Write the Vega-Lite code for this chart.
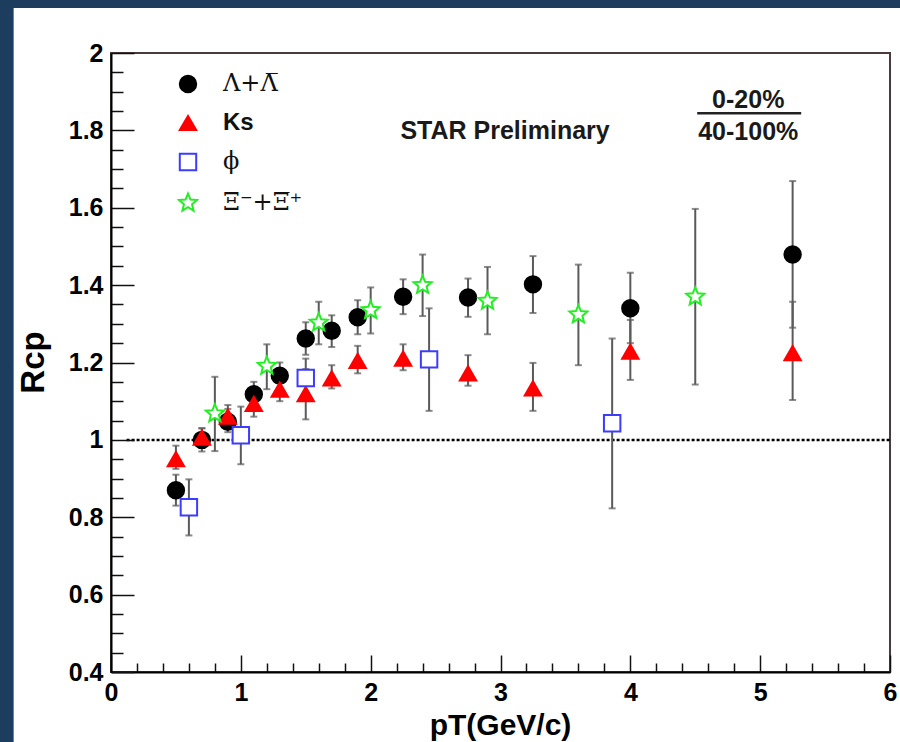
{
  "$schema": "https://vega.github.io/schema/vega-lite/v6.json",
  "width": 779,
  "height": 619,
  "autosize": "none",
  "padding": {"left": 111, "top": 53, "right": 10, "bottom": 70},
  "background": "#1d3d5e",
  "view": {"stroke": null},
  "resolve": {"axis": {"x": "independent", "y": "independent"}},
  "datasets": {
    "pts": [
      {"species": "\u039b+\u039b\u0305", "pt": 0.5, "rcp": 0.870, "lo": 0.830, "hi": 0.910},
      {"species": "\u039b+\u039b\u0305", "pt": 0.7, "rcp": 1.000, "lo": 0.970, "hi": 1.030},
      {"species": "\u039b+\u039b\u0305", "pt": 0.9, "rcp": 1.047, "lo": 1.020, "hi": 1.080},
      {"species": "\u039b+\u039b\u0305", "pt": 1.1, "rcp": 1.118, "lo": 1.090, "hi": 1.150},
      {"species": "\u039b+\u039b\u0305", "pt": 1.3, "rcp": 1.166, "lo": 1.130, "hi": 1.200},
      {"species": "\u039b+\u039b\u0305", "pt": 1.5, "rcp": 1.262, "lo": 1.220, "hi": 1.304},
      {"species": "\u039b+\u039b\u0305", "pt": 1.7, "rcp": 1.282, "lo": 1.240, "hi": 1.322},
      {"species": "\u039b+\u039b\u0305", "pt": 1.9, "rcp": 1.317, "lo": 1.273, "hi": 1.361},
      {"species": "\u039b+\u039b\u0305", "pt": 2.25, "rcp": 1.370, "lo": 1.325, "hi": 1.415},
      {"species": "\u039b+\u039b\u0305", "pt": 2.75, "rcp": 1.368, "lo": 1.318, "hi": 1.417},
      {"species": "\u039b+\u039b\u0305", "pt": 3.25, "rcp": 1.402, "lo": 1.328, "hi": 1.475},
      {"species": "\u039b+\u039b\u0305", "pt": 4.0, "rcp": 1.340, "lo": 1.250, "hi": 1.432},
      {"species": "\u039b+\u039b\u0305", "pt": 5.25, "rcp": 1.479, "lo": 1.290, "hi": 1.669},
      {"species": "Ks", "pt": 0.5, "rcp": 0.950, "lo": 0.925, "hi": 0.985},
      {"species": "Ks", "pt": 0.7, "rcp": 1.006, "lo": 0.980, "hi": 1.030},
      {"species": "Ks", "pt": 0.9, "rcp": 1.060, "lo": 1.030, "hi": 1.090},
      {"species": "Ks", "pt": 1.1, "rcp": 1.093, "lo": 1.060, "hi": 1.125},
      {"species": "Ks", "pt": 1.3, "rcp": 1.130, "lo": 1.100, "hi": 1.160},
      {"species": "Ks", "pt": 1.5, "rcp": 1.118, "lo": 1.053, "hi": 1.183},
      {"species": "Ks", "pt": 1.7, "rcp": 1.159, "lo": 1.133, "hi": 1.193},
      {"species": "Ks", "pt": 1.9, "rcp": 1.204, "lo": 1.172, "hi": 1.243},
      {"species": "Ks", "pt": 2.25, "rcp": 1.210, "lo": 1.180, "hi": 1.247},
      {"species": "Ks", "pt": 2.75, "rcp": 1.172, "lo": 1.140, "hi": 1.219},
      {"species": "Ks", "pt": 3.25, "rcp": 1.133, "lo": 1.075, "hi": 1.199},
      {"species": "Ks", "pt": 4.0, "rcp": 1.228, "lo": 1.155, "hi": 1.310},
      {"species": "Ks", "pt": 5.25, "rcp": 1.224, "lo": 1.103, "hi": 1.357},
      {"species": "\u03d5", "pt": 0.6, "rcp": 0.826, "lo": 0.753, "hi": 0.898},
      {"species": "\u03d5", "pt": 1.0, "rcp": 1.012, "lo": 0.937, "hi": 1.086},
      {"species": "\u03d5", "pt": 1.5, "rcp": 1.160, "lo": 1.110, "hi": 1.210},
      {"species": "\u03d5", "pt": 2.45, "rcp": 1.208, "lo": 1.075, "hi": 1.340},
      {"species": "\u03d5", "pt": 3.86, "rcp": 1.043, "lo": 0.823, "hi": 1.262},
      {"species": "\u039e\u207b+\u039e\u0305\u207a", "pt": 0.8, "rcp": 1.068, "lo": 0.971, "hi": 1.163},
      {"species": "\u039e\u207b+\u039e\u0305\u207a", "pt": 1.2, "rcp": 1.191, "lo": 1.131, "hi": 1.247},
      {"species": "\u039e\u207b+\u039e\u0305\u207a", "pt": 1.6, "rcp": 1.303, "lo": 1.247, "hi": 1.357},
      {"species": "\u039e\u207b+\u039e\u0305\u207a", "pt": 2.0, "rcp": 1.335, "lo": 1.275, "hi": 1.394},
      {"species": "\u039e\u207b+\u039e\u0305\u207a", "pt": 2.4, "rcp": 1.400, "lo": 1.320, "hi": 1.479},
      {"species": "\u039e\u207b+\u039e\u0305\u207a", "pt": 2.9, "rcp": 1.359, "lo": 1.273, "hi": 1.447},
      {"species": "\u039e\u207b+\u039e\u0305\u207a", "pt": 3.6, "rcp": 1.324, "lo": 1.193, "hi": 1.453},
      {"species": "\u039e\u207b+\u039e\u0305\u207a", "pt": 4.5, "rcp": 1.370, "lo": 1.143, "hi": 1.597}
    ]
  },
  "layer": [
    {
      "data": {"values": [{}]},
      "mark": {"type": "rect", "fill": "#ffffff", "clip": false, "stroke": null},
      "encoding": {
        "x": {"datum": -0.75, "type": "quantitative", "scale": {"domain": [0, 6], "nice": false, "zero": false}, "axis": null},
        "x2": {"datum": 6.5},
        "y": {"datum": 0.1, "type": "quantitative", "scale": {"domain": [0.4, 2], "nice": false, "zero": false}, "axis": null},
        "y2": {"datum": 2.116}
      }
    },
    {
      "data": {"values": [{}]},
      "mark": {"type": "rect", "fill": null, "stroke": "#4a3c3c", "strokeWidth": 2},
      "encoding": {
        "x": {"datum": 0, "type": "quantitative", "scale": {"domain": [0, 6], "nice": false, "zero": false},
          "axis": {"orient": "top", "offset": -619, "values": [0, 1, 2, 3, 4, 5, 6], "tickSize": 17, "tickWidth": 1.5, "tickColor": "#111111", "labels": false, "domain": false, "grid": false, "title": null, "zindex": 1}},
        "x2": {"datum": 6},
        "y": {"datum": 0.4, "type": "quantitative", "scale": {"domain": [0.4, 2], "nice": false, "zero": false},
          "axis": {"orient": "right", "offset": -779, "values": [0.4, 0.6, 0.8, 1, 1.2, 1.4, 1.6, 1.8, 2], "tickSize": 23, "tickWidth": 1.5, "tickColor": "#111111", "labels": false, "domain": false, "grid": false, "title": null, "zindex": 1}},
        "y2": {"datum": 2}
      }
    },
    {
      "data": {"values": [{}]},
      "mark": {"type": "rule", "stroke": "#000000", "strokeWidth": 2.5, "strokeDash": [3, 2]},
      "encoding": {
        "x": {"datum": 0.12, "type": "quantitative", "scale": {"domain": [0, 6], "nice": false, "zero": false},
          "axis": {"orient": "top", "offset": -619, "values": [0.2, 0.4, 0.6, 0.8, 1.2, 1.4, 1.6, 1.8, 2.2, 2.4, 2.6, 2.8, 3.2, 3.4, 3.6, 3.8, 4.2, 4.4, 4.6, 4.8, 5.2, 5.4, 5.6, 5.8], "tickSize": 9, "tickWidth": 1.5, "tickColor": "#111111", "labels": false, "domain": false, "grid": false, "title": null, "zindex": 1}},
        "x2": {"datum": 6},
        "y": {"datum": 1, "type": "quantitative", "scale": {"domain": [0.4, 2], "nice": false, "zero": false},
          "axis": {"orient": "right", "offset": -779, "values": [0.45, 0.5, 0.55, 0.65, 0.7, 0.75, 0.85, 0.9, 0.95, 1.05, 1.1, 1.15, 1.25, 1.3, 1.35, 1.45, 1.5, 1.55, 1.65, 1.7, 1.75, 1.85, 1.9, 1.95], "tickSize": 12, "tickWidth": 1.5, "tickColor": "#111111", "labels": false, "domain": false, "grid": false, "title": null, "zindex": 1}}
      }
    },
    {
      "data": {"name": "pts"},
      "mark": {"type": "errorbar", "ticks": true, "size": 7, "thickness": 2, "color": "#5a5a5a"},
      "encoding": {
        "x": {"field": "pt", "type": "quantitative", "scale": {"domain": [0, 6], "nice": false, "zero": false}, "axis": null},
        "y": {"field": "lo", "type": "quantitative", "scale": {"domain": [0.4, 2], "nice": false, "zero": false}, "axis": null},
        "y2": {"field": "hi"}
      }
    },
    {
      "data": {"name": "pts"},
      "mark": {"type": "point", "size": 270, "strokeWidth": 2, "opacity": 1},
      "encoding": {
        "x": {
          "field": "pt", "type": "quantitative",
          "scale": {"domain": [0, 6], "nice": false, "zero": false},
          "title": "pT(GeV/c)",
          "axis": {
            "orient": "bottom",
            "values": [0, 1, 2, 3, 4, 5, 6],
            "format": "~g",
            "ticks": false,
            "domainColor": "#000000", "domainWidth": 2,
            "labelFont": "Liberation Sans", "labelFontWeight": "bold", "labelFontSize": 25, "labelColor": "#000000",
            "labelPadding": 8, "labelFlush": false, "labelOverlap": false,
            "grid": false, "zindex": 1,
            "titleFont": "Liberation Sans", "titleFontSize": 30, "titleFontWeight": "bold", "titleColor": "#000000",
            "titleX": 389, "titleY": 62, "titleBaseline": "alphabetic", "titleAlign": "center"
          }
        },
        "y": {
          "field": "rcp", "type": "quantitative",
          "scale": {"domain": [0.4, 2], "nice": false, "zero": false},
          "title": "Rcp",
          "axis": {
            "orient": "left",
            "values": [0.4, 0.6, 0.8, 1, 1.2, 1.4, 1.6, 1.8, 2],
            "format": "~g",
            "ticks": false,
            "domainColor": "#000000", "domainWidth": 2,
            "labelFont": "Liberation Sans", "labelFontWeight": "bold", "labelFontSize": 25, "labelColor": "#000000",
            "labelPadding": 8, "labelFlush": false, "labelOverlap": false,
            "grid": false, "zindex": 1,
            "titleFont": "Liberation Sans", "titleFontSize": 33, "titleFontWeight": "bold", "titleColor": "#000000",
            "titleX": -78, "titleY": 309, "titleAngle": 270, "titleBaseline": "middle", "titleAlign": "center"
          }
        },
        "shape": {
          "field": "species", "type": "nominal",
          "scale": {"domain": ["\u039b+\u039b\u0305", "Ks", "\u03d5", "\u039e\u207b+\u039e\u0305\u207a"], "range": ["circle", "triangle-up", "square", "M0,-1.15L0.304,-0.419L1.094,-0.355L0.492,0.16L0.676,0.93L0,0.518L-0.676,0.93L-0.492,0.16L-1.094,-0.355L-0.304,-0.419Z"]},
          "legend": {
            "title": null, "orient": "none", "legendX": 65, "legendY": 19, "padding": 0,
            "symbolSize": 270, "symbolStrokeWidth": 2, "labelFontSize": 24, "labelOffset": 23,
            "rowPadding": 14, "labelLimit": 0, "labelColor": "#111111", "zindex": 1,
            "labelFont": {"expr": "datum.label === 'Ks' ? 'Liberation Sans' : 'DejaVu Serif'"},
            "labelFontWeight": {"expr": "datum.label === 'Ks' ? 'bold' : 'normal'"}
          }
        },
        "fill": {
          "field": "species", "type": "nominal",
          "scale": {"domain": ["\u039b+\u039b\u0305", "Ks", "\u03d5", "\u039e\u207b+\u039e\u0305\u207a"], "range": ["#000000", "#ff0000", "#ffffff", "#ffffff"]}
        },
        "stroke": {
          "field": "species", "type": "nominal",
          "scale": {"domain": ["\u039b+\u039b\u0305", "Ks", "\u03d5", "\u039e\u207b+\u039e\u0305\u207a"], "range": ["#000000", "#ff0000", "#3c3cff", "#22ee22"]}
        }
      }
    },
    {
      "data": {"values": [{}]},
      "mark": {"type": "text", "text": "STAR Preliminary", "font": "Liberation Sans", "fontWeight": "bold", "fontSize": 25, "fill": "#1a1a1a", "align": "center", "baseline": "middle"},
      "encoding": {
        "x": {"datum": 3.035, "type": "quantitative", "scale": {"domain": [0, 6], "nice": false, "zero": false}, "axis": null},
        "y": {"datum": 1.798, "type": "quantitative", "scale": {"domain": [0.4, 2], "nice": false, "zero": false}, "axis": null}
      }
    },
    {
      "data": {"values": [{}]},
      "mark": {"type": "text", "text": "0-20%", "font": "Liberation Sans", "fontWeight": "bold", "fontSize": 25, "fill": "#1a1a1a", "align": "center", "baseline": "middle"},
      "encoding": {
        "x": {"datum": 4.908, "type": "quantitative", "scale": {"domain": [0, 6], "nice": false, "zero": false}, "axis": null},
        "y": {"datum": 1.878, "type": "quantitative", "scale": {"domain": [0.4, 2], "nice": false, "zero": false}, "axis": null}
      }
    },
    {
      "data": {"values": [{}]},
      "mark": {"type": "text", "text": "40-100%", "font": "Liberation Sans", "fontWeight": "bold", "fontSize": 25, "fill": "#1a1a1a", "align": "center", "baseline": "middle"},
      "encoding": {
        "x": {"datum": 4.908, "type": "quantitative", "scale": {"domain": [0, 6], "nice": false, "zero": false}, "axis": null},
        "y": {"datum": 1.795, "type": "quantitative", "scale": {"domain": [0.4, 2], "nice": false, "zero": false}, "axis": null}
      }
    },
    {
      "data": {"values": [{}]},
      "mark": {"type": "rule", "stroke": "#222222", "strokeWidth": 2.5},
      "encoding": {
        "x": {"datum": 4.515, "type": "quantitative", "scale": {"domain": [0, 6], "nice": false, "zero": false}, "axis": null},
        "x2": {"datum": 5.316},
        "y": {"datum": 1.844, "type": "quantitative", "scale": {"domain": [0.4, 2], "nice": false, "zero": false}, "axis": null}
      }
    }
  ]
}
